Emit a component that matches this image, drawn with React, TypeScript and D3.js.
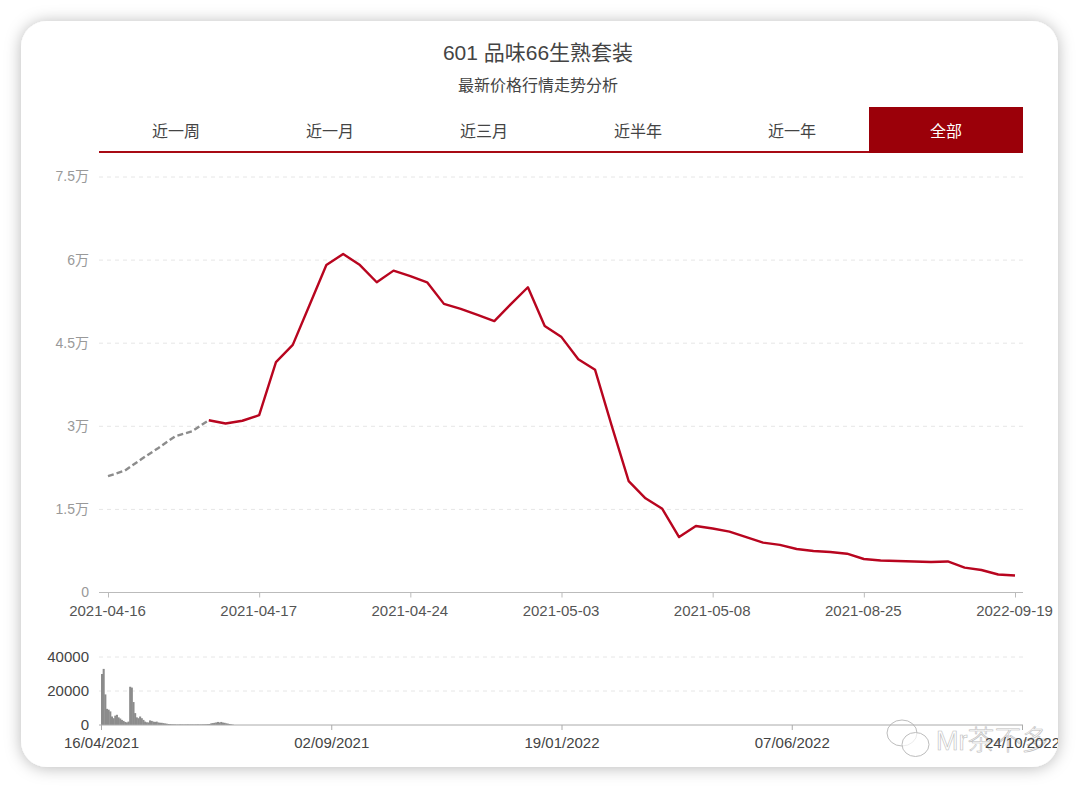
import { useEffect, useRef } from 'react';
import * as d3 from 'd3';

const title = '601 品味66生熟套装';
const subtitle = '最新价格行情走势分析';
const tabs = ['近一周', '近一月', '近三月', '近半年', '近一年', '全部'];

// price per point, the first seven points are the dashed grey part
const prices = [
  21000, 22000, 24100, 26100, 28200, 29100, 31100, 30500, 31000, 32000,
  41600, 44700, 51900, 59100, 61100, 59100, 56000, 58100, 57100, 56000,
  52100, 51200, 50100, 49000, 52100, 55100, 48100, 46100, 42100, 40200,
  30000, 20100, 17000, 15100, 10000, 12000, 11550, 11000, 10000, 9000,
  8600, 7850, 7500, 7300, 7000, 6050, 5780, 5680, 5600, 5500,
  5600, 4500, 4060, 3250, 3070,
];
const dashedCount = 7;
const priceTicks = [0, 15000, 30000, 45000, 60000, 75000];
const dateTickIndex = [0, 9, 18, 27, 36, 45, 54];
const dateTickLabels = ['2021-04-16', '2021-04-17', '2021-04-24', '2021-05-03', '2021-05-08', '2021-08-25', '2022-09-19'];

// daily volume for the small chart, starts 16/04/2021
const volumeStart = new Date(Date.UTC(2021, 3, 16));
const volumeEnd = new Date(Date.UTC(2022, 9, 24));
const volumes = [
  30000, 33000, 18000, 9500, 9000, 8000, 5000, 4000, 5500, 6000,
  4500, 3800, 3000, 2400, 1800, 1500, 2000, 22500, 22000, 13500,
  7000, 4500, 4000, 5000, 4000, 3000, 2000, 1600, 1500, 2700,
  2400, 2000, 1800, 2000, 1500, 1300, 1300, 1100, 900, 800,
  600, 500, 450, 400, 350, 300, 300, 350, 350, 300,
  300, 350, 350, 300, 350, 300, 300, 350, 350, 300,
  350, 350, 400, 450, 500, 600, 1000, 1100, 1300, 1500,
  1800, 1500, 1800, 1400, 1300, 1000, 800, 600, 400, 200,
];
const volumeTicks = [0, 20000, 40000];
const volumeDates = [
  new Date(Date.UTC(2021, 3, 16)),
  new Date(Date.UTC(2021, 8, 2)),
  new Date(Date.UTC(2022, 0, 19)),
  new Date(Date.UTC(2022, 5, 7)),
  new Date(Date.UTC(2022, 9, 24)),
];

const FONT = '"Liberation Sans", "Noto Sans CJK SC", sans-serif';
const LEFT = 99;
const RIGHT = 1023;

export default function App(): React.JSX.Element {
  const svgRef = useRef<SVGSVGElement>(null);

  useEffect(() => {
    if (!svgRef.current) return;
    const svg = d3.select(svgRef.current);
    svg.selectAll('*').remove();
    svg.style('font-family', FONT);

    // Card
    const blur = svg.append('defs').append('filter')
      .attr('id', 'card-shadow')
      .attr('x', '-5%').attr('y', '-5%').attr('width', '110%').attr('height', '110%');
    blur.append('feDropShadow')
      .attr('dx', 0).attr('dy', 1).attr('stdDeviation', 8)
      .attr('flood-color', '#000').attr('flood-opacity', 0.28);
    svg.select('defs').append('clipPath').attr('id', 'card-clip')
      .append('rect')
      .attr('x', 21).attr('y', 21).attr('width', 1037).attr('height', 746).attr('rx', 26);

    svg.append('rect')
      .attr('x', 21).attr('y', 21).attr('width', 1037).attr('height', 746).attr('rx', 26)
      .attr('fill', '#fff')
      .attr('filter', 'url(#card-shadow)');

    const root = svg.append('g').attr('clip-path', 'url(#card-clip)');

    // Titles
    root.append('text').text(title)
      .attr('x', 538).attr('y', 60).attr('text-anchor', 'middle')
      .attr('font-size', 21).attr('fill', '#444');
    root.append('text').text(subtitle)
      .attr('x', 538).attr('y', 90.5).attr('text-anchor', 'middle')
      .attr('font-size', 16).attr('fill', '#444');

    // Tabs
    const tabX = d3.scaleBand<string>().domain(tabs).range([LEFT, RIGHT]);
    root.append('rect')
      .attr('x', LEFT).attr('y', 151).attr('width', RIGHT - LEFT).attr('height', 2)
      .attr('fill', '#a80a14');
    root.append('rect')
      .attr('x', tabX('全部')!).attr('y', 107).attr('width', tabX.bandwidth()).attr('height', 46)
      .attr('fill', '#9b0009');
    root.selectAll('text.tab').data(tabs).join('text')
      .attr('class', 'tab')
      .text(d => d)
      .attr('x', d => tabX(d)! + tabX.bandwidth() / 2)
      .attr('y', 136.5)
      .attr('text-anchor', 'middle')
      .attr('font-size', 16)
      .attr('fill', d => (d === '全部' ? '#fff' : '#444'));

    // Main chart
    const x = d3.scaleLinear().domain([0, prices.length - 1]).range([108, 1015]);
    const y = d3.scaleLinear().domain([0, 75000]).range([592.5, 177]);

    root.append('g').selectAll('line').data(priceTicks.slice(1)).join('line')
      .attr('x1', LEFT).attr('x2', RIGHT)
      .attr('y1', d => y(d)).attr('y2', d => y(d))
      .attr('stroke', '#e6e6e6').attr('stroke-dasharray', '4 4');

    const yAxis = root.append('g')
      .attr('transform', 'translate(89,-0.5)')
      .call(d3.axisLeft(y).tickValues(priceTicks).tickSize(0).tickPadding(0)
        .tickFormat(d => (+d === 0 ? '0' : `${+d / 10000}万`)));
    yAxis.select('.domain').remove();
    yAxis.selectAll('text')
      .attr('font-size', 14).attr('fill', '#999').style('font-family', FONT);

    const xAxis = root.append('g')
      .attr('transform', 'translate(-1,592.5)')
      .call(d3.axisBottom(x).tickValues(dateTickIndex).tickSize(5).tickPadding(8)
        .tickFormat((_d, i) => dateTickLabels[i]));
    xAxis.select('.domain').remove();
    xAxis.selectAll('line').attr('stroke', '#bbb').attr('x1', 1).attr('x2', 1);
    xAxis.selectAll('text')
      .attr('font-size', 15).attr('fill', '#555').style('font-family', FONT);
    root.append('line')
      .attr('x1', LEFT).attr('x2', RIGHT).attr('y1', 592.5).attr('y2', 592.5)
      .attr('stroke', '#bbb');

    const line = d3.line<number>().x((_d, i) => x(i)).y(d => y(d));
    root.append('path')
      .attr('d', line(prices.slice(0, dashedCount)))
      .attr('fill', 'none').attr('stroke', '#8c8c8c').attr('stroke-width', 2.4)
      .attr('stroke-dasharray', '6 3');
    const solidLine = d3.line<number>().x((_d, i) => x(i + dashedCount - 1)).y(d => y(d));
    root.append('path')
      .attr('d', solidLine(prices.slice(dashedCount - 1)))
      .attr('fill', 'none').attr('stroke', '#b8051f').attr('stroke-width', 2.4)
      .attr('stroke-linejoin', 'round');

    // Small volume chart
    const vx = d3.scaleUtc().domain([volumeStart, volumeEnd]).range([101, 1022]);
    const vy = d3.scaleLinear().domain([0, 40000]).range([725, 657]);

    root.append('g').selectAll('line').data(volumeTicks.slice(1)).join('line')
      .attr('x1', LEFT).attr('x2', RIGHT)
      .attr('y1', d => vy(d)).attr('y2', d => vy(d))
      .attr('stroke', '#e6e6e6').attr('stroke-dasharray', '4 4');

    const barW = vx(d3.utcDay.offset(volumeStart, 1)) - vx(volumeStart);
    root.append('g').selectAll('rect').data(volumes).join('rect')
      .attr('x', (_d, i) => vx(d3.utcDay.offset(volumeStart, i)))
      .attr('y', d => vy(d))
      .attr('width', barW + 0.4)
      .attr('height', d => vy(0) - vy(d))
      .attr('fill', '#8c8c8c');

    const vyAxis = root.append('g')
      .attr('transform', 'translate(89,0)')
      .call(d3.axisLeft(vy).tickValues(volumeTicks).tickSize(0).tickPadding(0)
        .tickFormat(d => String(d)));
    vyAxis.select('.domain').remove();
    vyAxis.selectAll('text')
      .attr('font-size', 15).attr('fill', '#444').style('font-family', FONT);

    // Watermark sits under the last axis label
    const mark = root.append('g').attr('fill', 'rgba(255,255,255,0.7)').attr('stroke', '#bdbdbd');
    mark.append('ellipse').attr('cx', 902).attr('cy', 733).attr('rx', 15).attr('ry', 13);
    mark.append('ellipse').attr('cx', 915.5).attr('cy', 744.5).attr('rx', 13.5).attr('ry', 12);
    root.append('text').text('Mr茶不多')
      .attr('x', 936).attr('y', 750)
      .attr('font-size', 27).attr('font-weight', 300)
      .attr('fill', 'rgba(255,255,255,0.45)').attr('stroke', '#bdbdbd').attr('stroke-width', 0.6);

    const vxAxis = root.append('g')
      .attr('transform', 'translate(0,725)')
      .call(d3.axisBottom(vx).tickValues(volumeDates).tickSize(5).tickPadding(7)
        .tickFormat(d => d3.utcFormat('%d/%m/%Y')(d as Date)));
    vxAxis.select('.domain').remove();
    vxAxis.selectAll('line').attr('stroke', '#aaa');
    vxAxis.selectAll('text')
      .attr('font-size', 15).attr('fill', '#444').style('font-family', FONT);
    root.append('line')
      .attr('x1', LEFT).attr('x2', RIGHT).attr('y1', 725).attr('y2', 725)
      .attr('stroke', '#aaa');
  }, []);

  return (
    <svg
      ref={svgRef}
      width={1080}
      height={788}
      style={{ position: 'absolute', left: 0, top: 0, background: '#fff' }}
    />
  );
}
